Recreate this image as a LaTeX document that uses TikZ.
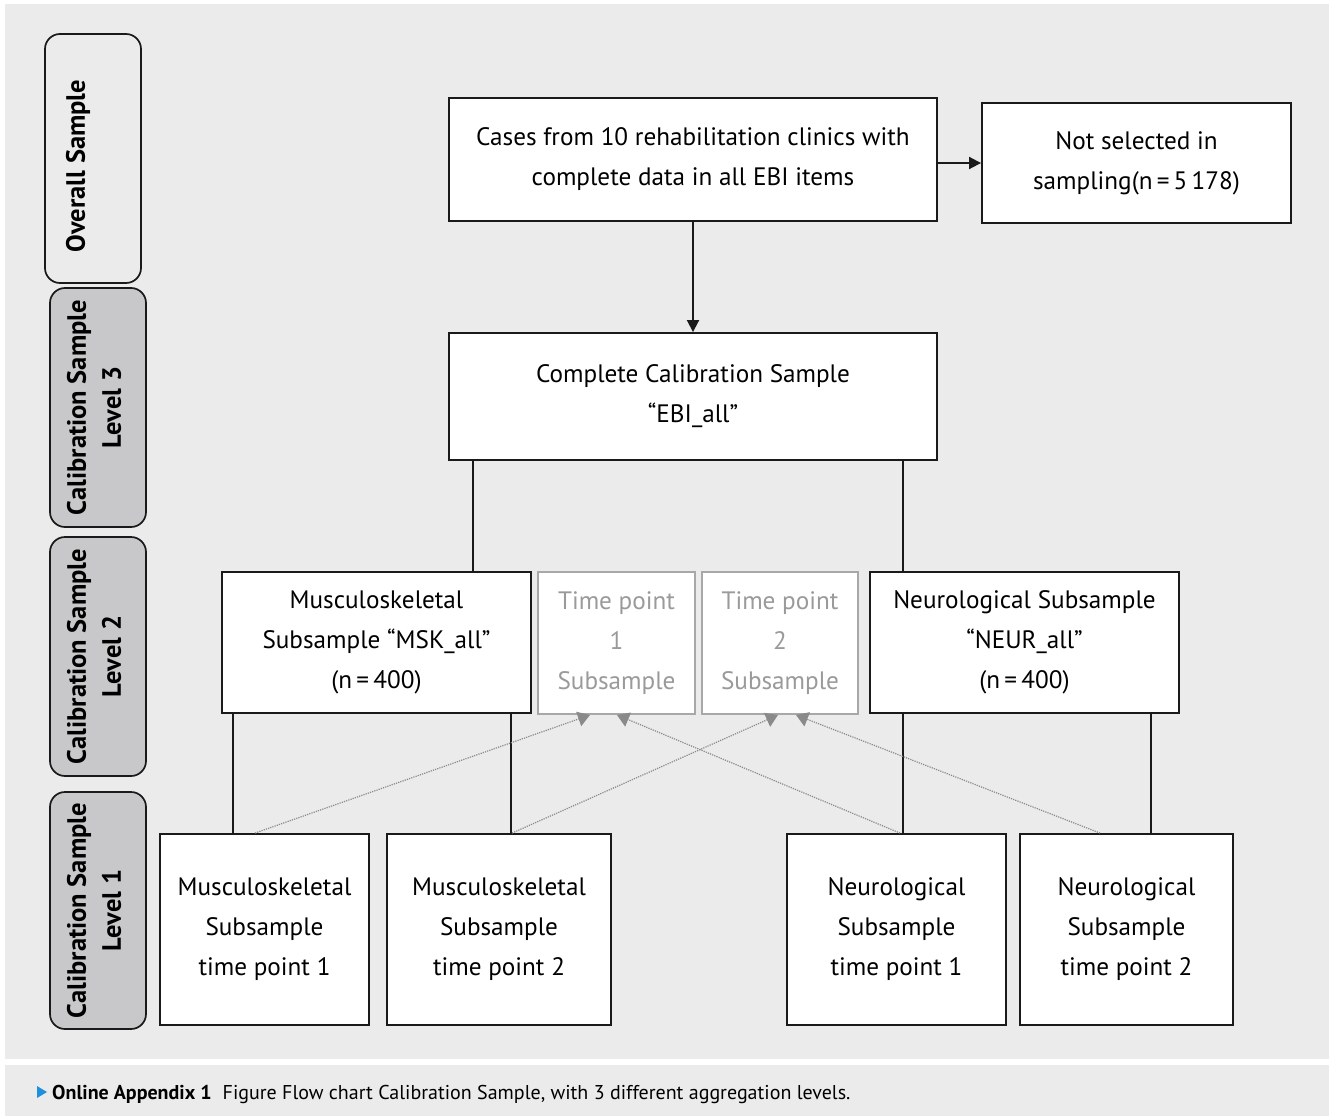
\documentclass[tikz,border=0pt]{standalone}
\usepackage{fontspec}
\setmainfont{PT Sans}
\usetikzlibrary{arrows.meta}
\definecolor{bgc}{HTML}{EBEBEB}
\definecolor{sidec}{HTML}{C8C8CA}
\definecolor{graybd}{HTML}{A8A8A8}
\definecolor{graytx}{HTML}{9A9A9A}
\definecolor{dotc}{HTML}{8A8A8A}
\definecolor{capblue}{HTML}{1E90DC}
\definecolor{ink}{HTML}{1A1A1A}
\begin{document}
\begin{tikzpicture}[x=1pt,y=-1pt,
  flowbox/.style={draw=ink, line width=1.9pt, fill=white, align=center, inner sep=0pt,
    font=\fontsize{25.2}{40}\selectfont},
  greybox/.style={flowbox, draw=graybd, text=graytx},
  sidebox/.style={draw=ink, line width=1.7pt, rounded corners=15pt, inner sep=0pt},
  sidelbl/.style={rotate=90, align=center, inner sep=0pt, font=\fontsize{26.5}{35}\selectfont\bfseries},
  conn/.style={line width=1.9pt, ink},
  arr/.style={conn, -{Triangle[width=12pt,length=12pt]}},
  dotarr/.style={dotc, line width=1.2pt, dash pattern=on 1.2pt off 1.1pt,
    -{Triangle[width=15pt,length=12pt]}},
]
\useasboundingbox (0,0) rectangle (1335,1116);
\fill[white] (0,0) rectangle (1335,1116);
\fill[bgc] (5,4) rectangle (1329,1059);
\fill[bgc] (5,1065) rectangle (1329,1116);

% side level labels
\node[sidebox, minimum width=96pt, minimum height=249pt] (s0) at (93,158.5) {};
\node[sidelbl] (t0) at (78,166) {Overall Sample};
\node[sidebox, fill=sidec, minimum width=96pt, minimum height=239pt] (s3) at (98,407.5) {};
\node[sidelbl] (t3) at (94,407.5) {Calibration Sample\\Level 3};
\node[sidebox, fill=sidec, minimum width=96pt, minimum height=239pt] (s2) at (98,656.5) {};
\node[sidelbl] (t2) at (94,656.5) {Calibration Sample\\Level 2};
\node[sidebox, fill=sidec, minimum width=96pt, minimum height=237pt] (s1) at (98,910.5) {};
\node[sidelbl] (t1) at (94,910.5) {Calibration Sample\\Level 1};

% main boxes
\node[flowbox, minimum width=488pt, minimum height=123pt] (top) at (693,159.5)
  {Cases from 10 rehabilitation clinics with\\complete data in all EBI items};
\node[flowbox, minimum width=309pt, minimum height=120pt] (notsel) at (1136.5,163)
  {Not selected in\\sampling(n\,=\,5\,178)};
\node[flowbox, minimum width=488pt, minimum height=127pt] (calib) at (693,396.5)
  {Complete Calibration Sample\\“EBI\_all”};
\node[flowbox, minimum width=309pt, minimum height=141pt] (msk) at (376.5,642.5)
  {Musculoskeletal\\Subsample “MSK\_all”\\(n\,=\,400)};
\node[greybox, minimum width=157pt, minimum height=142pt] (tp1) at (616.5,643)
  {Time point\\1\\Subsample};
\node[greybox, minimum width=156pt, minimum height=142pt] (tp2) at (780,643)
  {Time point\\2\\Subsample};
\node[flowbox, minimum width=309pt, minimum height=141pt] (neur) at (1024.5,642.5)
  {Neurological Subsample\\“NEUR\_all”\\(n\,=\,400)};
\node[flowbox, minimum width=209pt, minimum height=191pt] (m1) at (264.5,929.5)
  {Musculoskeletal\\Subsample\\time point 1};
\node[flowbox, minimum width=224pt, minimum height=191pt] (m2) at (499,929.5)
  {Musculoskeletal\\Subsample\\time point 2};
\node[flowbox, minimum width=219pt, minimum height=191pt] (n1) at (896.5,929.5)
  {Neurological\\Subsample\\time point 1};
\node[flowbox, minimum width=213pt, minimum height=191pt] (n2) at (1126.5,929.5)
  {Neurological\\Subsample\\time point 2};

% column positions for connectors
\coordinate (xa) at (473,0);
\coordinate (xb) at (903,0);
\coordinate (xc) at (233,0);
\coordinate (xd) at (511,0);
\coordinate (xe) at (1151,0);
\coordinate (d1) at (255,0);
\coordinate (d2) at (590,0);
\coordinate (d3) at (512,0);
\coordinate (d4) at (778,0);
\coordinate (d5) at (900,0);
\coordinate (d6) at (617,0);
\coordinate (d7) at (1100,0);
\coordinate (d8) at (796,0);

% solid connectors
\draw[arr] (top.east |- notsel.west) -- (notsel.west);
\draw[arr] (top.south) -- (calib.north);
\draw[conn] (calib.south -| xa) -- (msk.north -| xa);
\draw[conn] (calib.south -| xb) -- (neur.north -| xb);
\draw[conn] (msk.south -| xc) -- (m1.north -| xc);
\draw[conn] (msk.south -| xd) -- (m2.north -| xd);
\draw[conn] (neur.south -| xb) -- (n1.north -| xb);
\draw[conn] (neur.south -| xe) -- (n2.north -| xe);

% dotted arrows
\draw[dotarr] (m1.north -| d1) -- (tp1.south -| d2);
\draw[dotarr] (m2.north -| d3) -- (tp2.south -| d4);
\draw[dotarr] (n1.north -| d5) -- (tp1.south -| d6);
\draw[dotarr] (n2.north -| d7) -- (tp2.south -| d8);

% caption
\fill[capblue] (37,1086) -- (47,1092) -- (37,1098) -- cycle;
\node[anchor=base west, inner sep=0pt, font=\fontsize{20}{24}\selectfont] (cap) at (52,1099)
  {\textbf{Online Appendix 1}\hspace{11pt}Figure Flow chart Calibration Sample, with 3 different aggregation levels.};
\end{tikzpicture}
\end{document}
